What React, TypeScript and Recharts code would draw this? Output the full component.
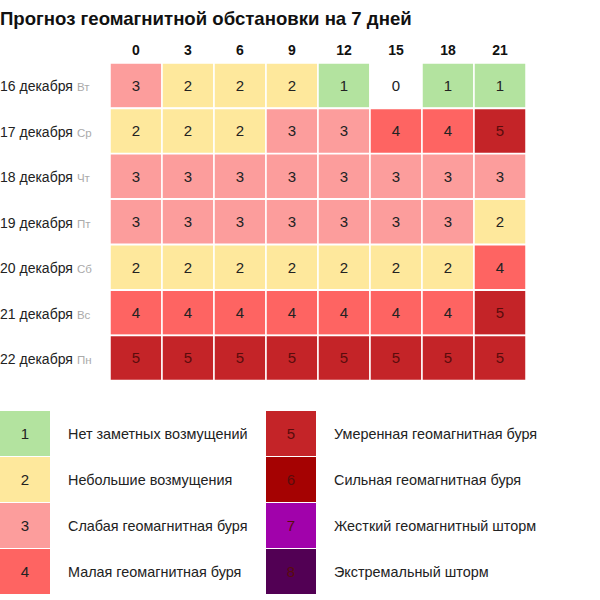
import { BarChart, Bar, XAxis, YAxis, Cell, LabelList } from 'recharts';

const hours = [0, 3, 6, 9, 12, 15, 18, 21];
const days = ['16 декабря', '17 декабря', '18 декабря', '19 декабря', '20 декабря', '21 декабря', '22 декабря'];
const weekdays = ['Вт', 'Ср', 'Чт', 'Пт', 'Сб', 'Вс', 'Пн'];

const kp16 = [3, 2, 2, 2, 1, 0, 1, 1];
const kp17 = [2, 2, 2, 3, 3, 4, 4, 5];
const kp18 = [3, 3, 3, 3, 3, 3, 3, 3];
const kp19 = [3, 3, 3, 3, 3, 3, 3, 2];
const kp20 = [2, 2, 2, 2, 2, 2, 2, 4];
const kp21 = [4, 4, 4, 4, 4, 4, 4, 5];
const kp22 = [5, 5, 5, 5, 5, 5, 5, 5];
const kpRows = [kp16, kp17, kp18, kp19, kp20, kp21, kp22];

const levels = [1, 2, 3, 4, 5, 6, 7, 8];
const levelNames = [
  'Нет заметных возмущений',
  'Небольшие возмущения',
  'Слабая геомагнитная буря',
  'Малая геомагнитная буря',
  'Умеренная геомагнитная буря',
  'Сильная геомагнитная буря',
  'Жесткий геомагнитный шторм',
  'Экстремальный шторм',
];
// index = kp level, 0 is quiet (white)
const levelColors = ['#ffffff', '#b3e39f', '#fee89c', '#fc9d9c', '#fe6462', '#c42428', '#a50202', '#a102ab', '#520054'];

const FONT = '"Liberation Sans", Arial, sans-serif';

const tableData = days.map((day, r) => {
  const row: any = { day, weekday: weekdays[r] };
  hours.forEach((_, i) => {
    row[`c${i}`] = 1;
    row[`k${i}`] = kpRows[r][i];
  });
  return row;
});

const textColor = (v: number) => (v >= 5 ? '#5a0c0c' : '#222');

const CellLabel = (p: any) => {
  const vb = p.viewBox ?? p;
  const { x, y, width, height } = vb;
  return (
    <text
      x={x + width / 2}
      y={y + height / 2}
      dy="0.36em"
      textAnchor="middle"
      fontSize={15}
      fontFamily={FONT}
      fill={textColor(p.value)}
    >
      {p.value}
    </text>
  );
};

const HourTick = (p: any) => (
  <text x={p.x} y={p.y} dy={0} textAnchor="middle" fontSize={14} fontWeight="bold" fontFamily={FONT} fill="#111">
    {hours[Math.floor(p.payload.value)]}
  </text>
);

const DayTick = (p: any) => {
  const idx = days.indexOf(p.payload.value);
  return (
    <text x={0} y={p.y} dy="0.36em" textAnchor="start" fontFamily={FONT}>
      <tspan fontSize={14} fill="#222">{p.payload.value}</tspan>
      <tspan fontSize={11.5} fill="#aaa" dx={4}>{weekdays[idx]}</tspan>
    </text>
  );
};

function LegendBox({ level, name, color }: { level: number; name: string; color: string }) {
  return (
    <div style={{ display: 'flex', alignItems: 'center', height: 45, marginBottom: 1 }}>
      <div
        style={{
          width: 50,
          height: 45,
          background: color,
          display: 'flex',
          alignItems: 'center',
          justifyContent: 'center',
          fontSize: 15,
          color: textColor(level),
        }}
      >
        {level}
      </div>
      <div style={{ marginLeft: 18, fontSize: 14.4, color: '#222' }}>{name}</div>
    </div>
  );
}

export default function App() {
  return (
    <div style={{ position: 'absolute', left: 0, top: 0, width: 600, height: 600, background: '#fff', fontFamily: FONT }}>
      <div style={{ position: 'absolute', left: 0, top: 8, fontSize: 18.6, fontWeight: 'bold', color: '#111', whiteSpace: 'nowrap' }}>
        Прогноз геомагнитной обстановки на 7 дней
      </div>
      <div style={{ position: 'absolute', left: 0, top: 0 }}>
        <BarChart
          layout="vertical"
          width={600}
          height={381}
          data={tableData}
          margin={{ top: 0, right: 74, bottom: 0, left: 0 }}
          barCategoryGap={0}
        >
          <XAxis
            type="number"
            orientation="top"
            domain={[0, hours.length]}
            ticks={hours.map((_, i) => i + 0.5)}
            height={63}
            axisLine={false}
            tickLine={false}
            tick={<HourTick />}
            interval={0}
          />
          <YAxis type="category" dataKey="day" width={110} axisLine={false} tickLine={false} tick={<DayTick />} interval={0} />
          {hours.map((h, i) => (
            <Bar key={h} dataKey={`c${i}`} stackId="grid" stroke="#fff" strokeWidth={1.5} isAnimationActive={false}>
              {tableData.map((row, r) => (
                <Cell key={r} fill={levelColors[row[`k${i}`]]} />
              ))}
              <LabelList dataKey={`k${i}`} content={<CellLabel />} />
            </Bar>
          ))}
        </BarChart>
      </div>
      <div style={{ position: 'absolute', left: 0, top: 411 }}>
        {levels.slice(0, 4).map((lv, i) => (
          <LegendBox key={lv} level={lv} name={levelNames[i]} color={levelColors[lv]} />
        ))}
      </div>
      <div style={{ position: 'absolute', left: 266, top: 411 }}>
        {levels.slice(4).map((lv, i) => (
          <LegendBox key={lv} level={lv} name={levelNames[i + 4]} color={levelColors[lv]} />
        ))}
      </div>
    </div>
  );
}
